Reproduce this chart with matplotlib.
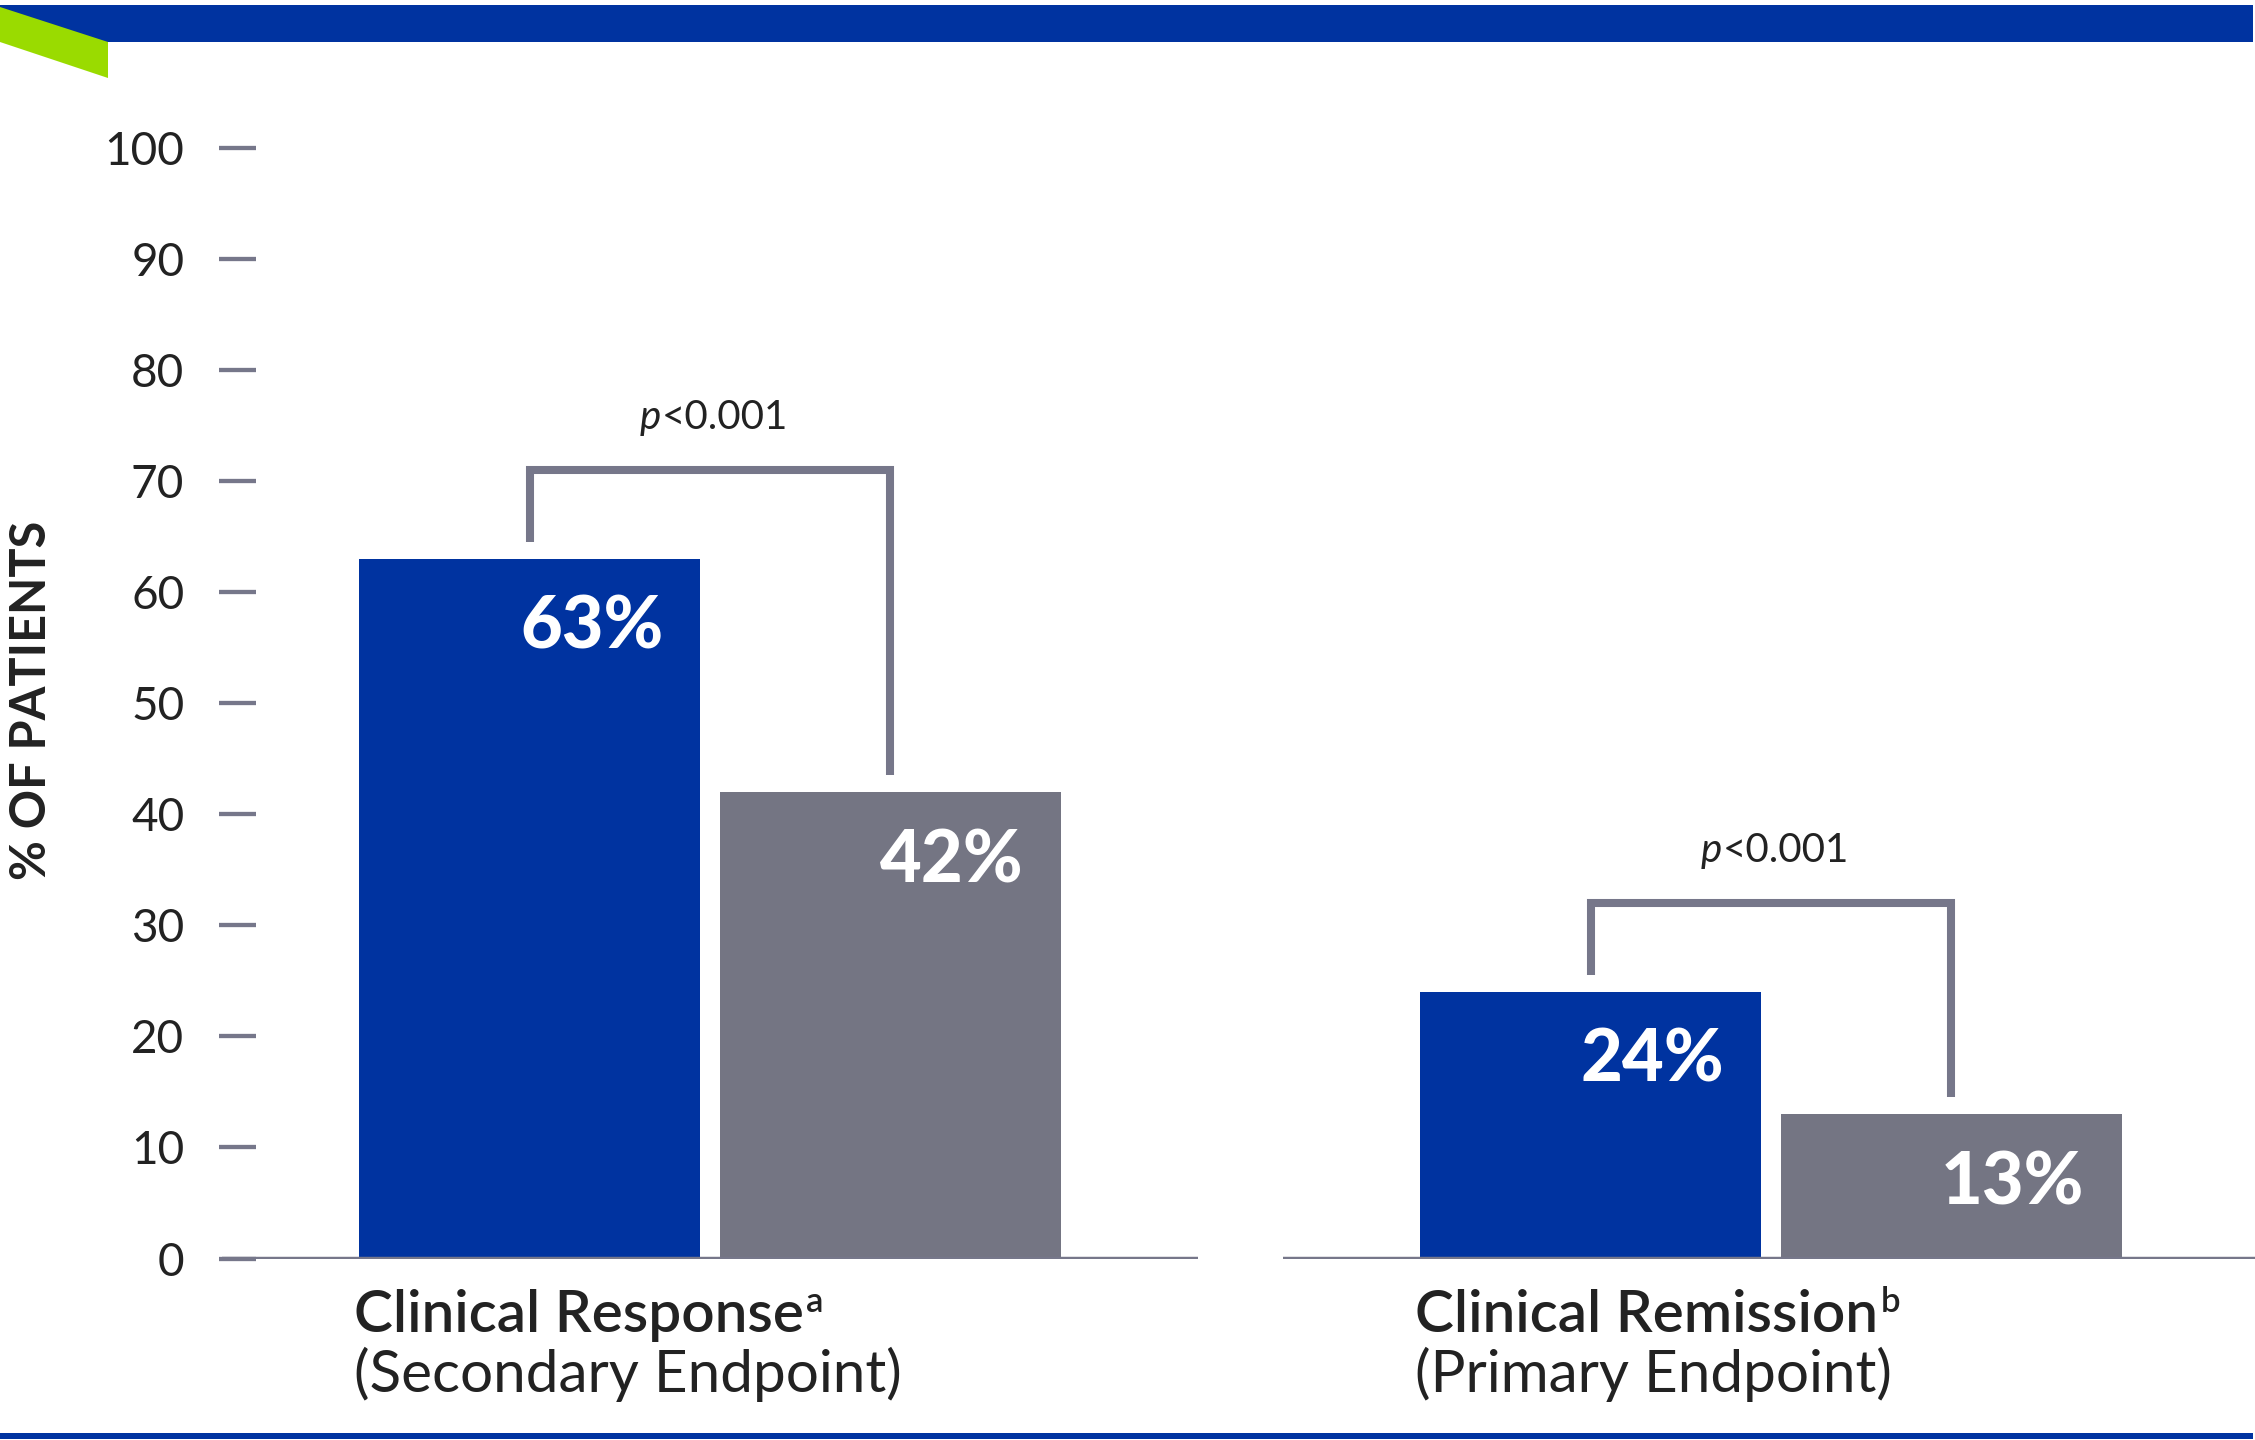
import matplotlib
matplotlib.use("Agg")
import matplotlib.pyplot as plt
from matplotlib.patches import Polygon, Rectangle
import numpy as np

# ---------------- data ----------------
categories = ["Clinical Response", "Clinical Remission"]
category_sup = ["a", "b"]
category_sub = ["(Secondary Endpoint)", "(Primary Endpoint)"]
treatment = [63, 24]
placebo = [42, 13]
p_values = ["<0.001", "<0.001"]
yticks = [0, 10, 20, 30, 40, 50, 60, 70, 80, 90, 100]
ylabel = "% OF PATIENTS"

# ---------------- style ----------------
BLUE = "#0033A0"
GRAY = "#747583"
LINE = "#76778A"
GREEN = "#9ADB00"
TEXT = "#222222"
FONT = ["Lato", "DejaVu Sans"]

W, H, DPI = 2255, 1440, 100
plt.rcParams["font.family"] = FONT

fig = plt.figure(figsize=(W / DPI, H / DPI), dpi=DPI)
fig.patch.set_facecolor("white")


def fx(px):
    return px / W


def fy(py):
    return 1 - py / H


# decorative header / footer
fig.patches.append(Rectangle((0, fy(42)), fx(2253), fy(5) - fy(42),
                             transform=fig.transFigure, color=BLUE, lw=0))
fig.patches.append(Polygon([(fx(0), fy(7)), (fx(108), fy(42)), (fx(108), fy(78)), (fx(0), fy(42))],
                           closed=True, transform=fig.transFigure, color=GREEN, lw=0))
fig.patches.append(Rectangle((0, fy(1439)), fx(2253), fy(1433) - fy(1439),
                             transform=fig.transFigure, color=BLUE, lw=0))

ax = fig.add_axes([fx(219), fy(1258.5), 1 - fx(219), fy(148) - fy(1258.5)])
ax.set_ylim(0, 100)
ax.set_xlim(-0.4628, 1.4562)
for s in ax.spines.values():
    s.set_visible(False)
ax.set_xticks([])
ax.set_yticks(yticks)
ax.set_yticklabels([str(t) for t in yticks], fontsize=33, fontweight="normal", color=TEXT)
ax.tick_params(axis="y", direction="in", length=26.6, width=3.1, color=LINE, pad=25)

x = np.arange(len(categories))
w = 0.3214
off = 0.1697

ax.bar(x - off, treatment, w, color=BLUE, zorder=2)
ax.bar(x + off, placebo, w, color=GRAY, zorder=2)

for g in x:
    ax.hlines(0, g - 0.46, g + 0.46, color=LINE, lw=3.2, zorder=3)

# value labels
for xs, vals in ((x - off, treatment), (x + off, placebo)):
    for xi, v in zip(xs, vals):
        ax.annotate(f"{v}%", xy=(xi + w / 2, v), xytext=(-37, -90), textcoords="offset pixels",
                    ha="right", va="baseline", color="white", fontsize=52, fontweight="black",
                    zorder=4)

# brackets with p-values
fig.canvas.draw()
renderer = fig.canvas.get_renderer()
for g, t, p, pv in zip(x, treatment, placebo, p_values):
    top = max(t, p) + 8
    xl, xr = g - off, g + off
    ax.plot([xl, xl, xr, xr], [t + 1.5, top, top, p + 1.5], color=LINE, lw=5.8,
            solid_joinstyle="miter", solid_capstyle="butt", zorder=3)
    tp = ax.annotate("p", xy=((xl + xr) / 2, top), xytext=(0, 41), textcoords="offset pixels",
                     ha="left", va="baseline", fontsize=29, fontstyle="italic",
                     fontweight="normal", color=TEXT)
    tr = ax.annotate(pv, xy=((xl + xr) / 2, top), xytext=(0, 41), textcoords="offset pixels",
                     ha="left", va="baseline", fontsize=29, fontweight="normal", color=TEXT)
    wp = tp.get_window_extent(renderer).width
    wr = tr.get_window_extent(renderer).width
    left = 3 - (wp + wr) / 2
    tp.set_position((left, 41))
    tr.set_position((left + wp + 1, 41))

# category labels
for g, name, sup, sub in zip(x, categories, category_sup, category_sub):
    x0 = g - off - w / 2
    t1 = ax.annotate(name, xy=(x0, 0), xytext=(-5, -73), textcoords="offset pixels",
                     ha="left", va="baseline", fontsize=42, fontweight="semibold",
                     color=TEXT, annotation_clip=False)
    wt = t1.get_window_extent(renderer).width
    ax.annotate(sup, xy=(x0, 0), xytext=(-5 + wt + 2, -53), textcoords="offset pixels",
                ha="left", va="baseline", fontsize=25, fontweight="semibold",
                color=TEXT, annotation_clip=False)
    ax.annotate(sub, xy=(x0, 0), xytext=(-5, -134), textcoords="offset pixels",
                ha="left", va="baseline", fontsize=42, fontweight="normal",
                color=TEXT, annotation_clip=False)

# y label
fig.text(fx(32), fy(700), ylabel, rotation=90, ha="center", va="center",
         fontsize=35, fontweight="bold", color=TEXT)

fig.savefig("out.png", dpi=DPI, facecolor="white")
